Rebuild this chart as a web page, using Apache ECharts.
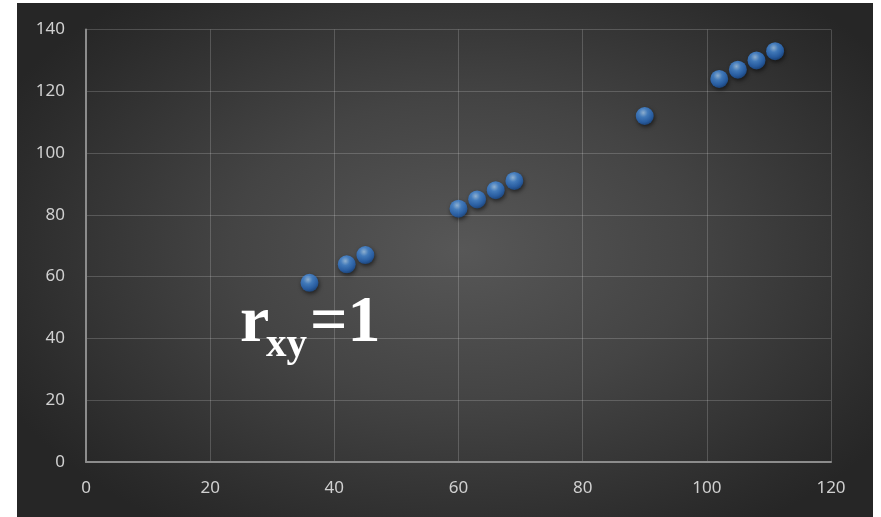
<!DOCTYPE html>
<html>
<head>
<meta charset="utf-8">
<script src="https://cdn.jsdelivr.net/npm/echarts@6/dist/echarts.min.js"></script>
<style>
html,body{margin:0;padding:0;background:#fff;width:881px;height:517px;overflow:hidden;}
#c{position:absolute;left:17px;top:3px;width:856px;height:514px;
background:radial-gradient(ellipse 60% 65% at 52% 48%, #575757 0%, #444 45%, #2b2b2b 90%, #262626 100%);}
</style>
</head>
<body>
<div id="c"></div>
<script>
const xValues = [36, 42, 45, 60, 63, 66, 69, 90, 102, 105, 108, 111];
const yValues = [58, 64, 67, 82, 85, 88, 91, 112, 124, 127, 130, 133];
const xTicks = [0, 20, 40, 60, 80, 100, 120];
const yTicks = [0, 20, 40, 60, 80, 100, 120, 140];
const annotation = ['r', 'xy', '=1'];

const chart = echarts.init(document.getElementById('c'), null, {renderer: 'canvas'});
const labelStyle = {color: '#d0d0d0', fontSize: 17, fontFamily: 'Noto Sans, sans-serif'};
chart.setOption({
  backgroundColor: 'transparent',
  animation: false,
  grid: {left: 69, right: 42, top: 26.5, bottom: 55},
  xAxis: {
    type: 'value', min: xTicks[0], max: xTicks[xTicks.length - 1], interval: 20,
    axisLine: {show: true, lineStyle: {color: '#8c8c8c', width: 2}},
    axisTick: {show: false},
    axisLabel: Object.assign({margin: 18}, labelStyle),
    splitLine: {show: true, lineStyle: {color: 'rgba(255,255,255,0.18)', width: 1}}
  },
  yAxis: {
    type: 'value', min: yTicks[0], max: yTicks[yTicks.length - 1], interval: 20,
    axisLine: {show: true, onZero: false, lineStyle: {color: '#8c8c8c', width: 2}},
    axisTick: {show: false},
    axisLabel: Object.assign({margin: 21}, labelStyle),
    splitLine: {show: true, lineStyle: {color: 'rgba(255,255,255,0.18)', width: 1}}
  },
  series: [{
    type: 'scatter',
    symbol: 'circle',
    symbolSize: 18,
    data: xValues.map((x, i) => [x, yValues[i]]),
    itemStyle: {
      color: {
        type: 'radial', x: 0.42, y: 0.32, r: 0.7,
        colorStops: [
          {offset: 0, color: '#a9d2fa'},
          {offset: 0.35, color: '#4a90e0'},
          {offset: 0.75, color: '#2a6bbf'},
          {offset: 1, color: '#1a4a8a'}
        ]
      },
      shadowBlur: 4, shadowColor: 'rgba(0,0,0,0.7)', shadowOffsetX: 1, shadowOffsetY: 2
    }
  }],
  graphic: [
    {type: 'text', left: 223, top: 288, style: {text: annotation[0], fill: '#fff', font: 'bold 66px "Liberation Serif", serif'}},
    {type: 'text', left: 249, top: 322, style: {text: annotation[1], fill: '#fff', font: 'bold 41px "Liberation Serif", serif'}},
    {type: 'text', left: 293, top: 288, style: {text: annotation[2], fill: '#fff', font: 'bold 66px "Liberation Serif", serif'}}
  ]
});
</script>
</body>
</html>
